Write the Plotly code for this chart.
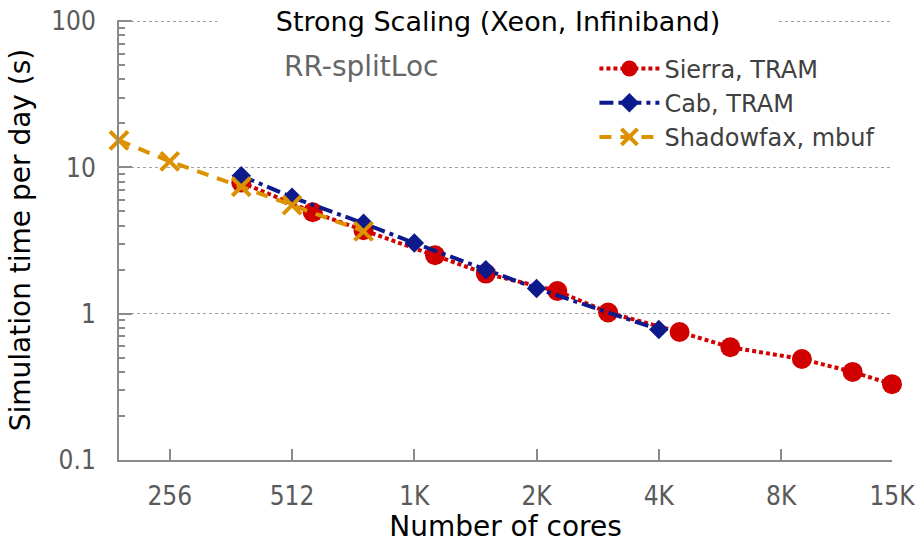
import plotly.graph_objects as go

# Strong-scaling runs: core counts and simulated time per day (seconds)
sierra_cores = [384, 576, 768, 1152, 1536, 2304, 3072, 4608, 6144, 9216, 12288, 15360]
sierra_time = [7.9, 4.94, 3.72, 2.51, 1.88, 1.43, 1.02, 0.75, 0.59, 0.49, 0.40, 0.33]

cab_cores = [384, 512, 768, 1024, 1536, 2048, 4096]
cab_time = [8.77, 6.26, 4.15, 3.04, 2.0, 1.49, 0.78]

shadowfax_cores = [192, 256, 384, 512, 768]
shadowfax_time = [15.3, 11.0, 7.38, 5.52, 3.66]

x_tick_vals = [256, 512, 1024, 2048, 4096, 8192, 15360]
x_tick_text = ["256", "512", "1K", "2K", "4K", "8K", "15K"]
y_tick_vals = [0.1, 1, 10, 100]
y_tick_text = ["0.1", "1", "10", "100"]

RED = "#d00000"
BLUE = "#0d1a8c"
ORANGE = "#dc9100"
AXIS = "#8a8a8a"
FONT = "DejaVu Sans"
TICK_FONT = "DejaVu Sans Condensed, DejaVu Sans"

fig = go.Figure()

fig.add_trace(go.Scatter(
    x=sierra_cores, y=sierra_time, name="Sierra, TRAM",
    mode="lines+markers", cliponaxis=False,
    line=dict(color=RED, width=4, dash="4px,3px"),
    marker=dict(symbol="circle", size=20, color=RED, line=dict(width=0)),
))
fig.add_trace(go.Scatter(
    x=cab_cores, y=cab_time, name="Cab, TRAM",
    mode="lines+markers", cliponaxis=False,
    line=dict(color=BLUE, width=4, dash="14px,5px,4px,5px"),
    marker=dict(symbol="diamond", size=15, color=BLUE, line=dict(width=0)),
))
fig.add_trace(go.Scatter(
    x=shadowfax_cores, y=shadowfax_time, name="Shadowfax, mbuf",
    mode="lines+markers", cliponaxis=False,
    line=dict(color=ORANGE, width=4, dash="12px,9px"),
    marker=dict(symbol="x-thin", size=18, color=ORANGE,
                line=dict(width=4, color=ORANGE)),
))

fig.update_layout(
    width=922, height=543,
    margin=dict(l=119, r=30, t=20, b=83),
    paper_bgcolor="white", plot_bgcolor="white",
    font=dict(family=FONT, size=22, color="#555555"),
    showlegend=True,
    legend=dict(
        x=0.985, y=0.94, xanchor="right", yanchor="top",
        bgcolor="rgba(0,0,0,0)", borderwidth=0,
        font=dict(family=FONT, size=24, color="#404040"),
        itemwidth=60, tracegroupgap=0,
    ),
    xaxis=dict(
        type="log",
        range=[2.2833, 4.1864],
        tickmode="array", tickvals=x_tick_vals, ticktext=x_tick_text,
        ticks="inside", ticklen=11, tickwidth=1.5, tickcolor=AXIS,
        showline=True, linecolor=AXIS, linewidth=2,
        showgrid=False, zeroline=False, automargin=False,
        ticklabelstandoff=12,
        tickfont=dict(family=TICK_FONT, size=26, color="#5a5a5a"),
        title=dict(text="Number of cores", standoff=6,
                   font=dict(family=FONT, size=28, color="black")),
    ),
    yaxis=dict(
        type="log",
        range=[-1, 2.008],
        tickmode="array", tickvals=y_tick_vals, ticktext=y_tick_text,
        ticks="inside", ticklen=13, tickwidth=1.5, tickcolor=AXIS,
        minor=dict(ticks="inside", ticklen=6, tickwidth=1.5, tickcolor=AXIS,
                   dtick="D1", showgrid=False),
        showline=True, linecolor=AXIS, linewidth=2,
        showgrid=True, gridcolor="#a0a0a0", gridwidth=1, griddash="dot",
        zeroline=False, automargin=False,
        ticklabelstandoff=16,
        tickfont=dict(family=TICK_FONT, size=26, color="#5a5a5a"),
        title=dict(text="Simulation time per day (s)", standoff=12,
                   font=dict(family=FONT, size=28, color="black")),
    ),
    annotations=[
        dict(text="Strong Scaling (Xeon, Infiniband)",
             xref="paper", yref="paper", x=0.49, y=0.997,
             xanchor="center", yanchor="middle",
             width=560, bgcolor="white", borderpad=0, showarrow=False,
             font=dict(family=FONT, size=27, color="black")),
        dict(text="RR-splitLoc",
             xref="paper", yref="paper", x=0.313, y=0.894,
             xanchor="center", yanchor="middle", showarrow=False,
             font=dict(family=FONT, size=28, color="#666666")),
    ],
)

fig.write_html("out.html")
